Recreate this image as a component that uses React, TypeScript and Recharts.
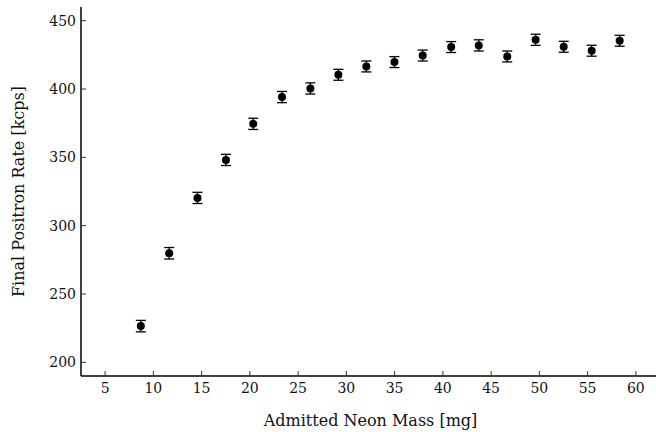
import { ScatterChart, Scatter, XAxis, YAxis, ErrorBar, Label } from 'recharts';

const neonMass = [8.7, 11.64, 14.57, 17.52, 20.35, 23.33, 26.27, 29.17, 32.07, 34.98, 37.91, 40.86, 43.72, 46.67, 49.61, 52.52, 55.42, 58.32];
const positronRate = [226.5, 279.8, 320.3, 348.1, 374.5, 394.1, 400.4, 410.4, 416.5, 419.7, 424.5, 430.7, 431.9, 423.8, 436, 430.9, 428, 435.3];
const rateError = [4.2, 4.2, 4.1, 4.1, 4.1, 4.1, 4.1, 4, 4, 4, 4, 4, 4.1, 4, 4.1, 4, 4, 4];
const xTicks = [5, 10, 15, 20, 25, 30, 35, 40, 45, 50, 55, 60];
const yTicks = [200, 250, 300, 350, 400, 450];

const data = neonMass.map((m, i) => ({ mass: m, rate: positronRate[i], err: rateError[i] }));

const font = '"DejaVu Serif", serif';
const tickStyle = { fontSize: 14, fill: '#111', fontFamily: font };

const Dot = (props: any) => <circle cx={props.cx} cy={props.cy} r={4} fill="#000" />;

export default function App() {
  return (
    <div style={{ position: 'absolute', top: 0, left: 0, width: 656, height: 432, overflow: 'hidden' }}>
      <ScatterChart width={670} height={432} margin={{ top: 7, right: 10, bottom: 0, left: 0 }}>
        <XAxis
          xAxisId="bottom"
          type="number"
          dataKey="mass"
          domain={[2.5, 62.5]}
          ticks={xTicks}
          allowDataOverflow
          height={56}
          tickSize={-5}
          tickMargin={12}
          tick={tickStyle}
          axisLine={{ stroke: '#000', strokeWidth: 1.5 }}
          tickLine={{ stroke: '#333' }}
        >
          <Label value="Admitted Neon Mass [mg]" position="insideBottom" offset={6} style={{ fontSize: 16, fill: '#111', fontFamily: font }} />
        </XAxis>
        <XAxis
          xAxisId="top"
          orientation="top"
          type="number"
          dataKey="mass"
          domain={[2.5, 62.5]}
          ticks={xTicks}
          allowDataOverflow
          height={0}
          tickSize={-5}
          tick={false}
          axisLine={{ stroke: '#000', strokeWidth: 1.5 }}
          tickLine={{ stroke: '#333' }}
        />
        <YAxis
          yAxisId="left"
          type="number"
          dataKey="rate"
          domain={[190, 460]}
          ticks={yTicks}
          allowDataOverflow
          width={81}
          tickSize={-5}
          tickMargin={10}
          tick={tickStyle}
          axisLine={{ stroke: '#000', strokeWidth: 1.5 }}
          tickLine={{ stroke: '#333' }}
        >
          <Label value="Final Positron Rate [kcps]" angle={-90} position="insideLeft" offset={18} style={{ fontSize: 16, fill: '#111', fontFamily: font, textAnchor: 'middle' }} />
        </YAxis>
        <YAxis
          yAxisId="right"
          orientation="right"
          type="number"
          dataKey="rate"
          domain={[190, 460]}
          ticks={yTicks}
          allowDataOverflow
          width={0}
          tickSize={-5}
          tick={false}
          axisLine={{ stroke: '#000', strokeWidth: 1.5 }}
          tickLine={{ stroke: '#333' }}
        />
        <Scatter data={data} xAxisId="bottom" yAxisId="left" shape={<Dot />} isAnimationActive={false}>
          <ErrorBar dataKey="err" direction="y" width={5} stroke="#000" strokeWidth={1.3} />
        </Scatter>
      </ScatterChart>
    </div>
  );
}
